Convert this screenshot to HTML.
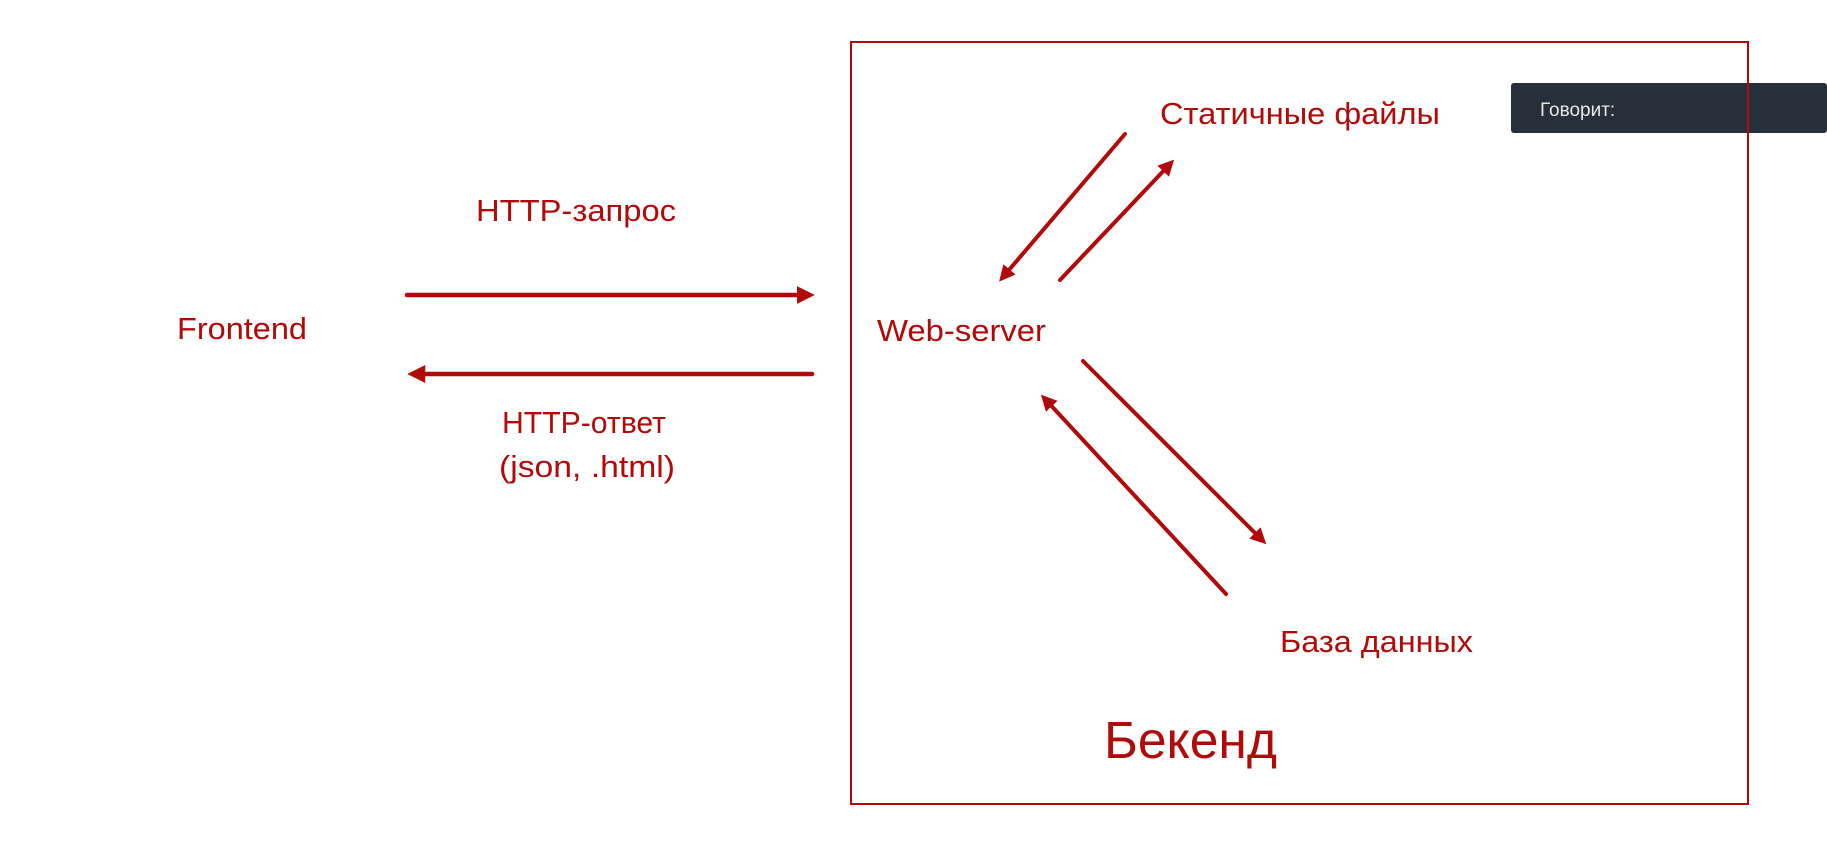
<!DOCTYPE html>
<html><head><meta charset="utf-8"><style>
html,body{margin:0;padding:0;background:#fff;width:1827px;height:862px;overflow:hidden}
</style></head><body>
<svg width="1827" height="862" viewBox="0 0 1827 862" xmlns="http://www.w3.org/2000/svg" font-family="Liberation Sans, sans-serif">
<defs>
<marker id="a" markerWidth="4" markerHeight="4" refX="2.5" refY="2" orient="auto" markerUnits="strokeWidth"><path d="M0,0 L4,2 L0,4 Z" fill="#b00a0a"/></marker>
</defs>
<rect x="1511" y="83" width="316" height="50" rx="3" fill="#262f3a"/>
<text x="1540" y="116" fill="#e8e8e8" font-size="19">Говорит:</text>
<rect x="851" y="42" width="897" height="762" fill="none" stroke="#b00a0a" stroke-width="2"/>
<g fill="#b00a0a" font-size="31">
<text x="177" y="339" textLength="130" lengthAdjust="spacingAndGlyphs">Frontend</text>
<text x="476" y="221" textLength="200" lengthAdjust="spacingAndGlyphs">HTTP-запрос</text>
<text x="502" y="433" textLength="164" lengthAdjust="spacingAndGlyphs">HTTP-ответ</text>
<text x="499" y="477" textLength="176" lengthAdjust="spacingAndGlyphs">(json, .html)</text>
<text x="877" y="341" textLength="169" lengthAdjust="spacingAndGlyphs">Web-server</text>
<text x="1160" y="124" textLength="280" lengthAdjust="spacingAndGlyphs">Статичные файлы</text>
<text x="1280" y="652" textLength="193" lengthAdjust="spacingAndGlyphs">База данных</text>
<text x="1104" y="758" font-size="52" textLength="173" lengthAdjust="spacingAndGlyphs">Бекенд</text>
</g>
<g stroke="#b00a0a" stroke-linecap="round" fill="none">
<line x1="407" y1="295" x2="808" y2="295" stroke-width="4.5" marker-end="url(#a)"/>
<line x1="812" y1="374" x2="414" y2="374" stroke-width="4.5" marker-end="url(#a)"/>
<line x1="1125" y1="134" x2="1003" y2="277" stroke-width="4" marker-end="url(#a)"/>
<line x1="1060" y1="280" x2="1170" y2="164" stroke-width="4" marker-end="url(#a)"/>
<line x1="1083" y1="361" x2="1262" y2="540" stroke-width="4" marker-end="url(#a)"/>
<line x1="1226" y1="594" x2="1045" y2="399" stroke-width="4" marker-end="url(#a)"/>
</g>
</svg>
</body></html>
